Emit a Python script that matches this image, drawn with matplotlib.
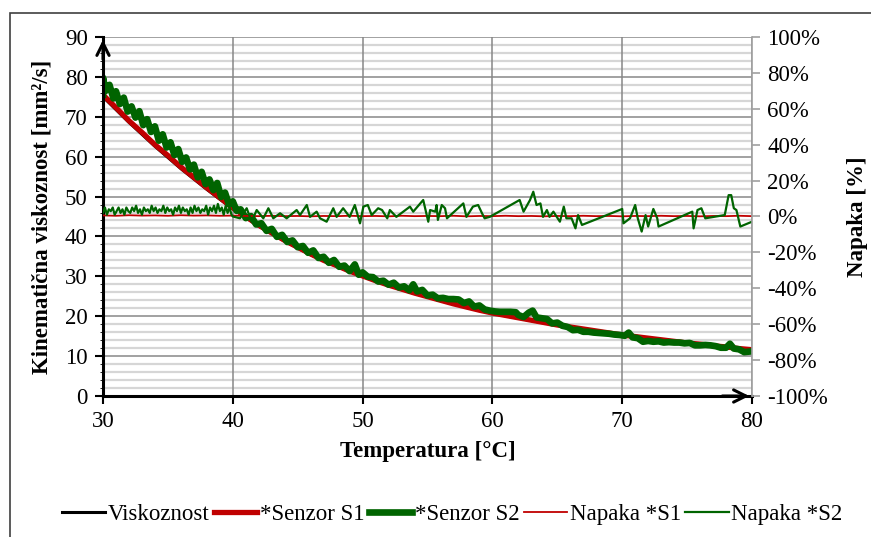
import matplotlib
matplotlib.use("Agg")
import matplotlib.pyplot as plt
from matplotlib.patches import Rectangle
from matplotlib.ticker import MultipleLocator, PercentFormatter

plt.rcParams['font.family'] = ['Liberation Serif', 'DejaVu Serif']
plt.rcParams['axes.unicode_minus'] = False

# Data

temp_v = [30, 32, 34, 36, 38, 40, 42, 44, 46, 48, 50, 52, 54, 56, 58,
          60, 62, 64, 66, 68, 70, 72, 74, 76, 78, 80]
viskoznost = [75.0, 68.6, 62.6, 57.0, 51.8, 46.9, 42.6, 38.8, 35.4, 32.5,
              30.0, 27.7, 25.7, 23.9, 22.2, 20.7, 19.5, 18.3, 17.2, 16.2,
              15.2, 14.4, 13.6, 12.9, 12.2, 11.5]

temp_s1 = list(range(30, 81))
senzor_s1 = [75.5, 72.3, 69.0, 66.1, 63.0, 60.3, 57.4, 54.8, 52.2, 49.7,
             47.2, 45.0, 42.8, 40.9, 39.0, 37.3, 35.6, 34.0, 32.7, 31.3,
             30.1, 28.9, 27.8, 26.8, 25.8, 24.9, 24.0, 23.1, 22.3, 21.5,
             20.8, 20.2, 19.6, 19.0, 18.4, 17.8, 17.3, 16.8, 16.3, 15.8,
             15.3, 14.9, 14.5, 14.1, 13.7, 13.3, 13.0, 12.6, 12.3, 11.9,
             11.6]

temp_s2 = [30.0, 30.0, 30.2, 30.5, 30.8, 31.0, 31.3, 31.6, 31.9, 32.2, 32.5,
           32.8, 33.1, 33.4, 33.7, 34.0, 34.3, 34.6, 34.9, 35.2, 35.5,
           35.8, 36.1, 36.4, 36.7, 37.0, 37.3, 37.6, 37.9, 38.2, 38.5,
           38.8, 39.1, 39.4, 39.7, 40.0, 40.3, 40.6, 41.0, 41.4, 41.8,
           42.2, 42.6, 43.0, 43.4, 43.8, 44.2, 44.6, 45.0, 45.4, 45.8,
           46.2, 46.6, 47.0, 47.4, 47.8, 48.2, 48.6, 49.0, 49.4, 49.7,
           50.0, 50.4, 50.8, 51.2, 51.6, 52.0, 52.4, 52.8, 53.2, 53.6,
           53.9, 54.2, 54.6, 55.0, 55.4, 55.8, 56.2, 56.6, 57.0, 57.4,
           57.8, 58.2, 58.6, 59.0, 59.4, 59.8, 60.2, 60.6, 61.0, 61.4,
           61.8, 62.0, 62.4, 62.8, 63.1, 63.4, 63.8, 64.2, 64.6, 65.0,
           65.4, 65.8, 66.2, 66.6, 67.0, 67.4, 67.8, 68.2, 68.6, 69.0,
           69.4, 69.8, 70.2, 70.5, 70.8, 71.2, 71.6, 72.0, 72.4, 72.8,
           73.2, 73.6, 74.0, 74.4, 74.8, 75.2, 75.6, 76.0, 76.4, 76.8,
           77.2, 77.6, 78.0, 78.3, 78.6, 79.0, 79.4, 79.7, 80.0]
senzor_s2 = [75.5, 79.8, 76.5, 78.0, 74.6, 76.4, 73.2, 74.8, 71.3, 72.6, 69.8,
             71.4, 67.9, 69.4, 66.2, 67.6, 64.0, 65.6, 62.3, 63.6, 60.4,
             61.9, 58.7, 59.8, 56.8, 58.0, 54.8, 56.2, 53.1, 54.3, 51.6,
             53.4, 49.9, 51.0, 48.1, 48.8, 46.4, 46.8, 44.6, 45.1, 43.0,
             43.3, 41.4, 41.9, 39.9, 40.4, 38.6, 39.0, 37.3, 37.6, 35.9,
             36.5, 34.6, 34.9, 33.4, 34.1, 32.4, 32.7, 31.3, 33.0, 30.4,
             31.0, 29.9, 29.8, 28.7, 28.9, 27.9, 28.4, 27.2, 27.5, 26.5,
             28.0, 26.2, 26.6, 25.2, 25.4, 24.5, 24.6, 24.3, 24.3, 24.2,
             23.3, 23.7, 22.4, 22.7, 21.7, 21.4, 21.2, 21.1, 21.1, 21.1,
             21.0, 20.3, 19.8, 20.9, 21.4, 19.7, 19.5, 19.3, 18.2, 18.4,
             17.6, 17.3, 16.5, 16.6, 16.1, 16.1, 15.9, 15.8, 15.7, 15.6,
             15.4, 15.3, 15.1, 15.9, 14.7, 14.5, 13.6, 13.8, 13.6, 13.7,
             13.4, 13.5, 13.4, 13.4, 13.2, 13.3, 12.7, 12.7, 12.8, 12.7,
             12.5, 12.1, 12.1, 13.1, 11.9, 11.7, 11.0, 11.1, 11.2]

temp_e1 = [30, 31, 32, 33, 34, 35, 36, 37, 38, 39, 40, 41, 42, 43, 44,
           45, 46, 47, 48, 49, 50, 51, 52, 53, 54, 55, 56, 57, 58, 59,
           60, 61, 62, 63, 64, 65, 66, 67, 68, 69, 70, 71, 72, 73, 74,
           75, 76, 77, 78, 79, 80]
napaka_s1 = [0.006, 0.004, 0.007, 0.005, 0.006, 0.004, 0.007, 0.005, 0.006,
             0.004, 0.005, 0.003, 0.002, 0.004, 0.002, 0.003, 0.001, 0.003,
             0.002, 0.004, 0.002, 0.003, 0.001, 0.004, 0.002, 0.003, 0.002,
             0.004, 0.001, 0.003, 0.002, 0.004, 0.002, 0.003, 0.001, 0.003,
             0.002, 0.004, 0.002, 0.003, 0.001, 0.003, 0.002, 0.004, 0.002,
             0.003, 0.001, 0.003, 0.002, 0.004, 0.002]

temp_e2 = [30.0, 30.15, 30.3, 30.45, 30.6, 30.75, 30.9, 31.05, 31.2, 31.35,
           31.5, 31.65, 31.8, 31.95, 32.1, 32.25, 32.4, 32.55, 32.7, 32.85,
           33.0, 33.15, 33.3, 33.45, 33.6, 33.75, 33.9, 34.05, 34.2, 34.35,
           34.5, 34.65, 34.8, 34.95, 35.1, 35.25, 35.4, 35.55, 35.7, 35.85,
           36.0, 36.15, 36.3, 36.45, 36.6, 36.75, 36.9, 37.05, 37.2, 37.35,
           37.5, 37.65, 37.8, 37.95, 38.1, 38.25, 38.4, 38.55, 38.7, 38.85,
           39.0, 39.15, 39.3, 39.45, 39.6, 39.75, 39.9,
           40.0, 40.55, 41.07, 41.45, 41.84, 42.35, 42.74, 43.12, 43.64,
           44.15, 44.92, 45.18, 45.7, 45.95, 46.46, 46.72, 47.23, 47.74,
           48.0, 48.5, 49.0, 49.4, 49.8, 50.06, 50.4, 50.7, 51.2, 51.5,
           51.9, 52.1, 52.6, 53.65, 53.9, 54.67, 55.06, 55.2, 55.6, 55.7,
           55.8, 56.1, 56.35, 56.5, 57.76, 58.0, 58.5, 58.9, 59.2, 59.4,
           59.8, 62.1, 62.4, 62.9, 63.15, 63.4, 63.7, 63.9, 64.2, 64.4,
           64.7, 65.2, 65.5, 65.7, 66.1, 66.4, 66.6, 66.9, 70.0, 70.1,
           70.6, 71.0, 71.2, 71.5, 71.8, 72.0, 72.4, 72.7, 72.8, 75.4,
           75.5, 75.8, 76.1, 76.4, 77.9, 78.2, 78.4, 78.6, 78.8, 79.1, 80.0]
napaka_s2 = [0.02, 0.05, 0.01, 0.04, 0.03, 0.05, 0.01, 0.03, 0.05, 0.02,
             0.04, 0.01, 0.05, 0.03, 0.02, 0.05, 0.03, 0.06, 0.02, 0.04,
             0.01, 0.05, 0.03, 0.04, 0.02, 0.06, 0.03, 0.05, 0.02, 0.04,
             0.03, 0.06, 0.02, 0.05, 0.03, 0.04, 0.01, 0.05, 0.03, 0.06,
             0.02, 0.05, 0.03, 0.04, 0.01, 0.05, 0.02, 0.06, 0.03, 0.05,
             0.02, 0.04, 0.03, 0.06, 0.01, 0.05, 0.03, 0.06, 0.02, 0.07,
             0.03, 0.05, 0.01, 0.06, 0.02, 0.05, 0.01,
             0.000, -0.010, 0.046, -0.029, 0.036, -0.010, 0.046, -0.010, 0.018,
             -0.010, 0.036, 0.008, 0.064, -0.002, 0.027, -0.010, -0.029, 0.046,
             -0.002, 0.046, -0.002, 0.064, -0.038, 0.055, 0.064, 0.008, 0.046,
             0.036, -0.010, 0.036, -0.002, 0.055, 0.027, 0.092, -0.029, 0.036,
             0.027, 0.064, -0.019, 0.064, 0.046, -0.010, 0.073, -0.002, 0.055,
             0.064, 0.018, -0.010, -0.002, 0.092, 0.027, 0.092, 0.138, 0.064,
             0.073, -0.002, 0.036, -0.002, 0.027, -0.029, 0.055, -0.010, -0.010,
             -0.066, 0.008, -0.047, 0.042, -0.038, -0.010, 0.064, -0.010, -0.084,
             0.008, -0.056, 0.042, -0.010, -0.056, 0.027, -0.066, 0.036, 0.046,
             -0.010, 0.008, 0.119, 0.119, 0.046, 0.036, -0.056, -0.029]

red = '#C00000'
green = '#006400'
fs = 16.5

fig = plt.figure(figsize=(8.71, 5.37), dpi=100)
fig.patches.append(Rectangle((10 / 871, -0.2), 1.2, 0.2 + 1 - 13 / 537,
                             transform=fig.transFigure, fill=False,
                             edgecolor='#404040', linewidth=1.2))

ax = fig.add_axes([103 / 871, 141 / 537, 649 / 871, 359 / 537])
ax.set_xlim(30, 80)
ax.set_ylim(0, 90)
ax.xaxis.set_major_locator(MultipleLocator(10))
ax.yaxis.set_major_locator(MultipleLocator(10))
ax.yaxis.set_minor_locator(MultipleLocator(2))
ax.set_axisbelow(True)
ax.grid(True, which='major', color='#878787', linewidth=1.1)
# light minor lines under the major grid
minor_y = [v for v in ax.yaxis.get_minorticklocs() if v % 10]
ax.hlines(minor_y, 30, 80, colors='#D6D6D6', linewidth=1.6, zorder=0.1)
ax.tick_params(which='minor', left=False)
ax.tick_params(which='major', direction='out', length=6, width=1.5,
               labelsize=fs, pad=5)

for side in ['top', 'right']:
    ax.spines[side].set_visible(False)
for side in ['left', 'bottom']:
    ax.spines[side].set_linewidth(2.2)
    ax.spines[side].set_color('black')

ax.plot(temp_v, viskoznost, color='black', linewidth=2.2, label='Viskoznost',
        solid_joinstyle='round')
ax.plot(temp_s1, senzor_s1, color=red, linewidth=3.8, label='*Senzor S1')
ax.plot(temp_s2, senzor_s2, color=green, linewidth=4.8, label='*Senzor S2')

ax.annotate('', xy=(0, 1.0), xytext=(0, 0.93), xycoords='axes fraction',
            arrowprops=dict(arrowstyle='->', color='black', lw=2.2,
                            mutation_scale=22), annotation_clip=False)
ax.annotate('', xy=(1.0, 0), xytext=(0.95, 0), xycoords='axes fraction',
            arrowprops=dict(arrowstyle='->', color='black', lw=2.2,
                            mutation_scale=22), annotation_clip=False)

ax.set_xlabel('Temperatura [°C]', fontsize=fs, fontweight='bold', labelpad=6)
ax.set_ylabel('Kinematična viskoznost [mm²/s]', fontsize=fs,
              fontweight='bold', labelpad=9)

ax2 = ax.twinx()
ax2.set_ylim(-1, 1)
ax2.yaxis.set_major_locator(MultipleLocator(0.2))
ax2.yaxis.set_major_formatter(PercentFormatter(1.0, decimals=0))
for side in ['top', 'left', 'bottom']:
    ax2.spines[side].set_visible(False)
ax2.spines['right'].set_color('#A0A0A0')
ax2.spines['right'].set_linewidth(1.2)
ax2.tick_params(direction='out', length=6, width=1.2, color='#A0A0A0',
                labelsize=fs, labelcolor='black', pad=5)

ax2.plot(temp_e1, napaka_s1, color=red, linewidth=1.3, label='Napaka *S1')
ax2.plot(temp_e2, napaka_s2, color=green, linewidth=1.6, label='Napaka *S2')
ax2.set_ylabel('Napaka [%]', fontsize=fs, fontweight='bold', labelpad=14)

h1, l1 = ax.get_legend_handles_labels()
h2, l2 = ax2.get_legend_handles_labels()
fig.legend(h1 + h2, l1 + l2, loc='center', bbox_to_anchor=(0.519, 0.042),
           ncol=5, frameon=False, fontsize=fs, handlelength=1.9,
           handletextpad=0.1, columnspacing=0.2, borderpad=0)

fig.savefig('out.png', dpi=100)
